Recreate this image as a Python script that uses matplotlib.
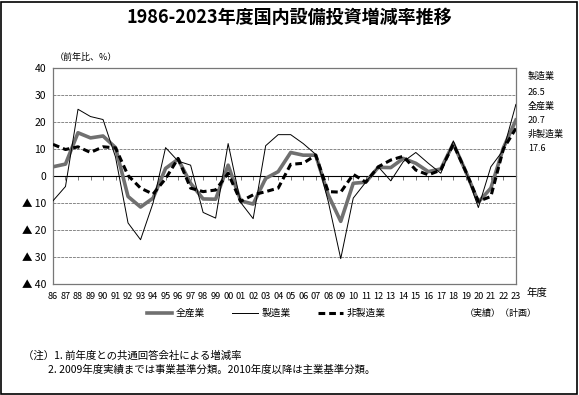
import matplotlib.pyplot as plt
from matplotlib.patches import Rectangle

plt.rcParams['font.family'] = ['Noto Sans CJK JP', 'DejaVu Sans']

# 年度ラベル (86 ... 23)
years = ["86", "87", "88", "89", "90", "91", "92", "93", "94", "95",
         "96", "97", "98", "99", "00", "01", "02", "03", "04", "05",
         "06", "07", "08", "09", "10", "11", "12", "13", "14", "15",
         "16", "17", "18", "19", "20", "21", "22", "23"]

# 前年比 (%)
all_ind = [3.4, 4.4, 16.0, 14.1, 14.8, 10.5, -7.6, -11.5, -8.2, 2.8,
           6.2, -2.7, -8.5, -8.6, 4.0, -9.2, -10.4, -0.9, 1.6, 8.7,
           7.7, 7.7, -7.0, -16.8, -2.7, -2.3, 3.2, 3.1, 6.5, 4.7,
           1.6, 2.6, 12.0, 1.6, -9.7, -4.5, 10.4, 20.7]
mfg = [-9.2, -3.9, 24.7, 22.0, 20.9, 7.0, -17.4, -23.6, -10.0, 10.5,
       5.5, 4.0, -13.5, -15.6, 12.0, -9.8, -15.8, 11.2, 15.3, 15.3,
       12.0, 8.0, -9.4, -30.6, -8.2, -2.3, 3.4, -1.8, 5.3, 8.7,
       4.7, 1.0, 13.0, 1.6, -11.7, 3.4, 9.6, 26.5]
non_mfg = [11.7, 9.8, 10.8, 8.7, 10.8, 10.4, 0.2, -4.5, -6.7, -1.0,
           6.5, -4.5, -5.8, -5.2, 1.0, -9.4, -7.0, -5.8, -4.5, 4.3,
           4.7, 7.7, -5.8, -6.0, 0.6, -2.3, 3.4, 5.9, 7.3, 2.2,
           0.4, 2.2, 11.8, 1.6, -9.4, -7.6, 10.0, 17.6]

x = list(range(len(years)))

fig = plt.figure(figsize=(5.79, 3.95), dpi=100)
ax = fig.add_axes([0.0915, 0.281, 0.7995, 0.547])

ax.plot(x, all_ind, color="#707070", lw=2.6, label="全産業", zorder=3)
ax.plot(x, mfg, color="black", lw=0.7, label="製造業", zorder=4)
ax.plot(x, non_mfg, color="black", lw=2.2, ls=(0, (2.2, 1.3)), label="非製造業", zorder=5)

ax.set_xlim(0, len(years) - 1)
ax.set_ylim(-40, 40)
yt = list(range(-40, 41, 10))
ax.set_yticks(yt)
ax.set_yticklabels([str(v) if v >= 0 else "▲ " + str(-v) for v in yt], fontsize=7.5)
ax.set_xticks(x)
ax.set_xticklabels(years, fontsize=6.6)
ax.tick_params(axis="both", length=0, pad=5)
ax.tick_params(axis="x", pad=6)

for v in [30, 20, 10, -10, -20, -30]:
    ax.axhline(v, color="#888888", lw=0.7, ls=(0, (3, 1)), zorder=1)
for s in ax.spines.values():
    s.set_color("#777777")
    s.set_linewidth(0.9)

# 0 の軸と目盛
zero = ax.secondary_xaxis(0.5)
zero.set_xticks(x, labels=[""] * len(x))
zero.tick_params(direction="in", length=3, width=0.7, color="#777777")
zero.spines["bottom"].set_color("#777777")
zero.spines["bottom"].set_linewidth(0.9)

fig.text(0.5, 0.957, "1986-2023年度国内設備投資増減率推移", ha="center", va="center",
         fontsize=13, fontweight="bold")
fig.text(0.095, 0.855, "（前年比、%）", ha="left", va="center", fontsize=6.5)
fig.text(0.928, 0.258, "年度", ha="center", va="center", fontsize=7.5)
fig.text(0.865, 0.207, "（実績）（計画）", ha="center", va="center", fontsize=6.5)

# 右側の値
side = [("製造業", 0.808), ("26.5", 0.767), ("全産業", 0.731), ("20.7", 0.696),
        ("非製造業", 0.660), ("17.6", 0.625)]
for t, yy in side:
    fig.text(0.912, yy, t, ha="left", va="center", fontsize=6.5)

fig.legend(loc="center", bbox_to_anchor=(0.46, 0.207), ncol=3, frameon=False,
           fontsize=7, handlelength=2.6, columnspacing=2.8, handletextpad=0.4)

fig.text(0.04, 0.10, "（注）1. 前年度との共通回答会社による増減率", ha="left", va="center", fontsize=7.5)
fig.text(0.083, 0.063, "2. 2009年度実績までは事業基準分類。2010年度以降は主業基準分類。",
         ha="left", va="center", fontsize=7.5)

fig.patches.append(Rectangle((0.002, 0.003), 0.995, 0.993, transform=fig.transFigure,
                             fill=False, edgecolor="black", lw=1.2))

plt.savefig("out.png", dpi=100)
